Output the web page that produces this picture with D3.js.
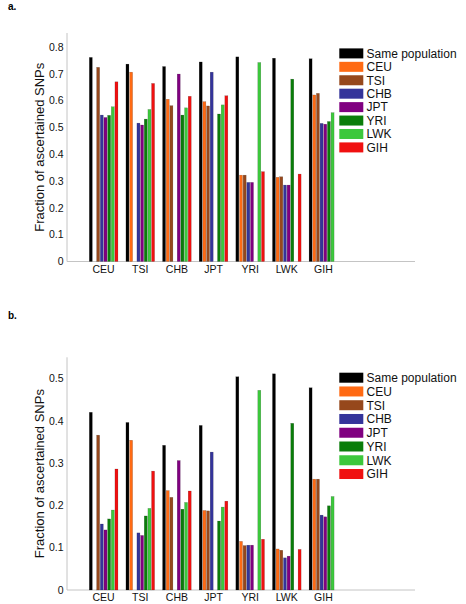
<!DOCTYPE html>
<html><head><meta charset="utf-8">
<script src="https://cdn.jsdelivr.net/npm/d3@7"></script>
<style>body{margin:0;background:#fff}svg{display:block}text{font-family:"Liberation Sans",Arial,sans-serif}</style>
</head><body><svg id="c" width="466" height="604"></svg>
<script>
const groups = ["CEU","TSI","CHB","JPT","YRI","LWK","GIH"];
const seriesNames = ["Same population","CEU","TSI","CHB","JPT","YRI","LWK","GIH"];
const seriesColors = ["#000000","#ff6a13","#96481c","#34349a","#800080","#0a7d0a","#3cc83c","#f01010"];

// Panel a values (per series across groups CEU..GIH)
const aSame = [0.761,0.736,0.727,0.744,0.763,0.758,0.756];
const aCEU  = [null, 0.706,0.605,0.596,0.322,0.314,0.621];
const aTSI  = [0.724,null, 0.581,0.580,0.322,0.316,0.627];
const aCHB  = [0.546,0.516,null, 0.706,0.295,0.285,0.515];
const aJPT  = [0.537,0.509,0.699,null, 0.295,0.285,0.512];
const aYRI  = [0.545,0.531,0.546,0.550,null, 0.680,0.522];
const aLWK  = [0.577,0.567,0.573,0.584,0.742,null, 0.555];
const aGIH  = [0.670,0.664,0.616,0.618,0.335,0.326,null];
const aTicks = [0,0.1,0.2,0.3,0.4,0.5,0.6,0.7,0.8];

// Panel b values
const bSame = [0.420,0.396,0.342,0.389,0.504,0.511,0.478];
const bCEU  = [null, 0.354,0.235,0.188,0.115,0.097,0.262];
const bTSI  = [0.366,null, 0.219,0.187,0.105,0.094,0.262];
const bCHB  = [0.156,0.135,null, 0.326,0.106,0.076,0.177];
const bJPT  = [0.142,0.129,0.306,null, 0.106,0.080,0.173];
const bYRI  = [0.168,0.175,0.191,0.163,null, 0.394,0.199];
const bLWK  = [0.189,0.193,0.207,0.196,0.472,null, 0.221];
const bGIH  = [0.286,0.281,0.234,0.210,0.120,0.096,null];
const bTicks = [0,0.1,0.2,0.3,0.4,0.5];

const svg = d3.select("#c");

function panel(opts){
  const {label, labelY, top, bottom, ymax, ticks, series, legSpacing} = opts;
  const g = svg.append("g");
  const x = d3.scaleLinear().domain([0,9.5]).range([67,415]);
  const y = d3.scaleLinear().domain([0,ymax]).range([bottom,top]);
  g.append("text").attr("x",8).attr("y",labelY).attr("font-size",10).attr("font-weight","bold").text(label);
  // axes
  g.append("line").attr("x1",x(0)).attr("x2",x(0)).attr("y1",y(ymax)).attr("y2",y(0)).attr("stroke","#c4c4c4").attr("stroke-width",1);
  g.append("line").attr("x1",x(0)).attr("x2",x(9.5)).attr("y1",y(0)).attr("y2",y(0)).attr("stroke","#c4c4c4").attr("stroke-width",1);
  g.selectAll(".yt").data(ticks).enter().append("text")
    .attr("x",x(0)-3.5).attr("y",d=>y(d)).attr("dy","0.36em").attr("text-anchor","end")
    .attr("font-size",10.5).attr("fill","#111").text(d=>d===0?"0":d3.format(".1f")(d));
  g.selectAll(".xt").data(groups).enter().append("text")
    .attr("x",(d,i)=>x(i+1)).attr("y",y(0)+11).attr("text-anchor","middle")
    .attr("font-size",10.5).attr("fill","#111").text(d=>d);
  g.append("text").attr("transform",`translate(43.5,${(y(0)+y(ymax))/2}) rotate(-90)`)
    .attr("text-anchor","middle").attr("font-size",13).attr("fill","#111").text("Fraction of ascertained SNPs");
  // bars
  const slot = 0.1, bw = 0.082;
  series.forEach((vals,j)=>{
    vals.forEach((v,i)=>{
      if(v==null) return;
      const cx = i+1+(j-3.5)*slot;
      g.append("rect").attr("x",x(cx-bw/2)).attr("width",x(bw)-x(0))
        .attr("y",y(v)).attr("height",y(0)-y(v))
        .attr("fill",seriesColors[j]).attr("stroke","#000").attr("stroke-width",0.4).attr("stroke-opacity",0.35);
    });
  });
  // legend
  const ly0 = top+20.4;
  seriesNames.forEach((n,j)=>{
    const cy = ly0 + j*legSpacing;
    g.append("rect").attr("x",339.3).attr("y",cy-5).attr("width",24).attr("height",10).attr("fill",seriesColors[j]);
    g.append("text").attr("x",366.5).attr("y",cy).attr("dy","0.36em").attr("font-size",12).attr("fill","#111").text(n);
  });
}

panel({label:"a.", labelY:9.5, top:33, bottom:261.5, ymax:0.852, ticks:aTicks,
  series:[aSame,aCEU,aTSI,aCHB,aJPT,aYRI,aLWK,aGIH], legSpacing:13.43});
panel({label:"b.", labelY:318.5, top:357.3, bottom:590, ymax:0.55, ticks:bTicks,
  series:[bSame,bCEU,bTSI,bCHB,bJPT,bYRI,bLWK,bGIH], legSpacing:13.76});
</script></body></html>
